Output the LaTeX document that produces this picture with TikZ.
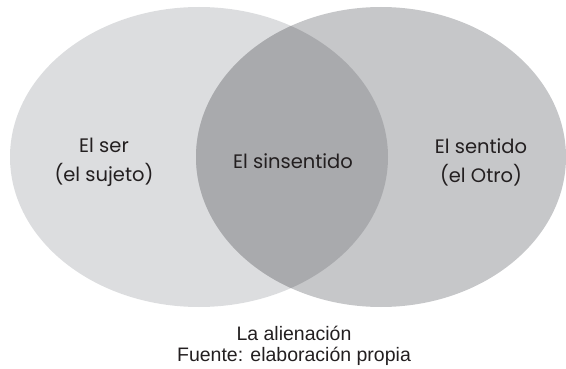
\documentclass[tikz,border=0pt]{standalone}
\usepackage{fontspec}
\setmainfont{Liberation Sans}
\newfontfamily\labelfont{Poppins}
\definecolor{serfill}{HTML}{DCDDDF}
\definecolor{otrofill}{HTML}{C6C7C9}
\definecolor{sinfill}{HTML}{A9AAAD}
\definecolor{inktext}{HTML}{231F20}
\tikzset{
  setlabel/.style={align=center, text=inktext, font=\labelfont\fontsize{19.5}{29}\selectfont},
  caption/.style={align=center, text=inktext, font=\fontsize{19.5}{21}\selectfont}
}
\begin{document}
\begin{tikzpicture}[x=1pt,y=-1pt]
        \useasboundingbox (0,0) rectangle (566,369);

        % The two sets
        \fill[serfill] (199,157) ellipse [x radius=189, y radius=150];
        \fill[otrofill] (381,157) ellipse [x radius=185, y radius=150];

        % Overlap shaded darker
        \begin{scope}
          \clip (199,157) ellipse [x radius=189, y radius=150];
          \fill[sinfill] (381,157) ellipse [x radius=185, y radius=150];
        \end{scope}

        \node[setlabel] (ser) at (104,162) {El ser\\(el sujeto)};
        \node[setlabel] (sinsentido) at (293,161) {El sinsentido};
        \node[setlabel] (sentido) at (481,162) {El sentido\\(el Otro)};

        \node[caption] (fuente) at (294,346) {La alienación\\Fuente: elaboración propia};
      \end{tikzpicture}
\end{document}
